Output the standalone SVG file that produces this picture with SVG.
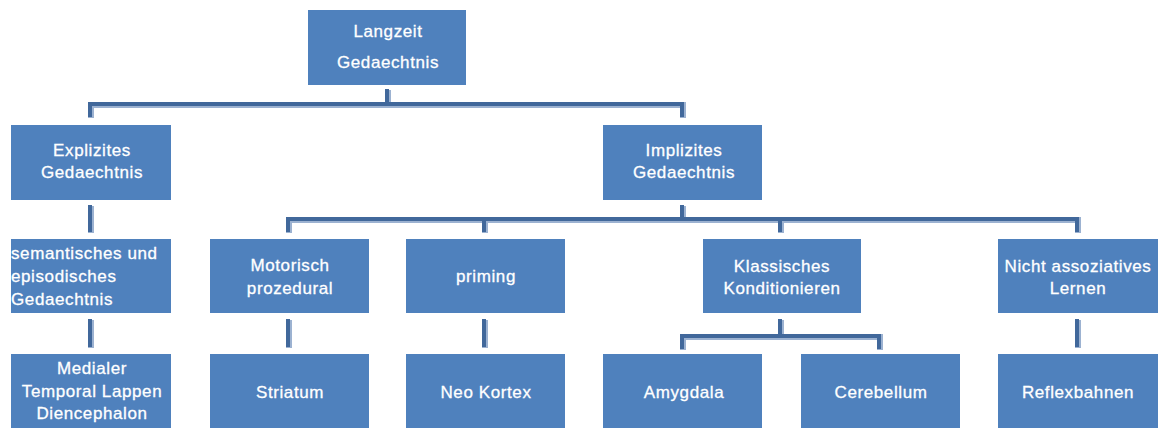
<svg xmlns="http://www.w3.org/2000/svg" width="1160" height="428" viewBox="0 0 1160 428">
<style>
.box{fill:#4f81bd}
.t{fill:#ffffff;font-family:"Liberation Sans",Arial,sans-serif;font-size:17px;letter-spacing:0.6px;text-anchor:middle;stroke:#ffffff;stroke-width:0.3}
.tl{text-anchor:start}
.cl{fill:none;stroke:#9cb2d1;stroke-width:6}
.cd{fill:none;stroke:#41689b;stroke-width:4}
</style>
<rect width="1160" height="428" fill="#ffffff"/>
<g id="connectors">
<g class="cl">
<path d="M388 90V105M91 118V105H683V118"/>
<path d="M91 206V233M91 320V348"/>
<path d="M683 206V220M289 233V220H1078V233M485 220V233M781 220V233"/>
<path d="M289 320V348M485 320V348M1078 320V348"/>
<path d="M781 320V337M683 350V337H880V350"/>
</g>
<g class="cd" transform="translate(-1,-1)">
<path d="M388 90V105M91 118V105H683V118"/>
<path d="M91 206V233M91 320V348"/>
<path d="M683 206V220M289 233V220H1078V233M485 220V233M781 220V233"/>
<path d="M289 320V348M485 320V348M1078 320V348"/>
<path d="M781 320V337M683 350V337H880V350"/>
</g>
</g>
<g id="langzeit"><rect class="box" x="308" y="10" width="158" height="75"/><text class="t" x="388" y="37">Langzeit</text><text class="t" x="388" y="68">Gedaechtnis</text></g>
<g id="explizit"><rect class="box" x="11" y="125" width="160" height="75"/><text class="t" x="92" y="156">Explizites</text><text class="t" x="92" y="178">Gedaechtnis</text></g>
<g id="implizit"><rect class="box" x="603" y="125" width="159" height="75"/><text class="t" x="684" y="156">Implizites</text><text class="t" x="684" y="178">Gedaechtnis</text></g>
<g id="semantisch"><rect class="box" x="11" y="239" width="160" height="74"/><text class="t tl" x="11" y="259">semantisches und</text><text class="t tl" x="11" y="282">episodisches</text><text class="t tl" x="11" y="305">Gedaechtnis</text></g>
<g id="motorisch"><rect class="box" x="210" y="239" width="159" height="74"/><text class="t" x="290" y="271">Motorisch</text><text class="t" x="290" y="294">prozedural</text></g>
<g id="priming"><rect class="box" x="406" y="239" width="159" height="74"/><text class="t" x="486" y="282">priming</text></g>
<g id="klassisch"><rect class="box" x="703" y="239" width="158" height="74"/><text class="t" x="782" y="272">Klassisches</text><text class="t" x="782" y="294">Konditionieren</text></g>
<g id="nicht"><rect class="box" x="998" y="239" width="160" height="74"/><text class="t" x="1078" y="272">Nicht assoziatives</text><text class="t" x="1078" y="294">Lernen</text></g>
<g id="medialer"><rect class="box" x="11" y="354" width="160" height="74"/><text class="t" x="92" y="374">Medialer</text><text class="t" x="92" y="397">Temporal Lappen</text><text class="t" x="92" y="419">Diencephalon</text></g>
<g id="striatum"><rect class="box" x="210" y="354" width="159" height="74"/><text class="t" x="290" y="398">Striatum</text></g>
<g id="neokortex"><rect class="box" x="406" y="354" width="159" height="74"/><text class="t" x="486" y="398">Neo Kortex</text></g>
<g id="amygdala"><rect class="box" x="603" y="354" width="159" height="74"/><text class="t" x="684" y="398">Amygdala</text></g>
<g id="cerebellum"><rect class="box" x="801" y="354" width="159" height="74"/><text class="t" x="881" y="398">Cerebellum</text></g>
<g id="reflexbahnen"><rect class="box" x="998" y="354" width="160" height="74"/><text class="t" x="1078" y="398">Reflexbahnen</text></g>
</svg>
